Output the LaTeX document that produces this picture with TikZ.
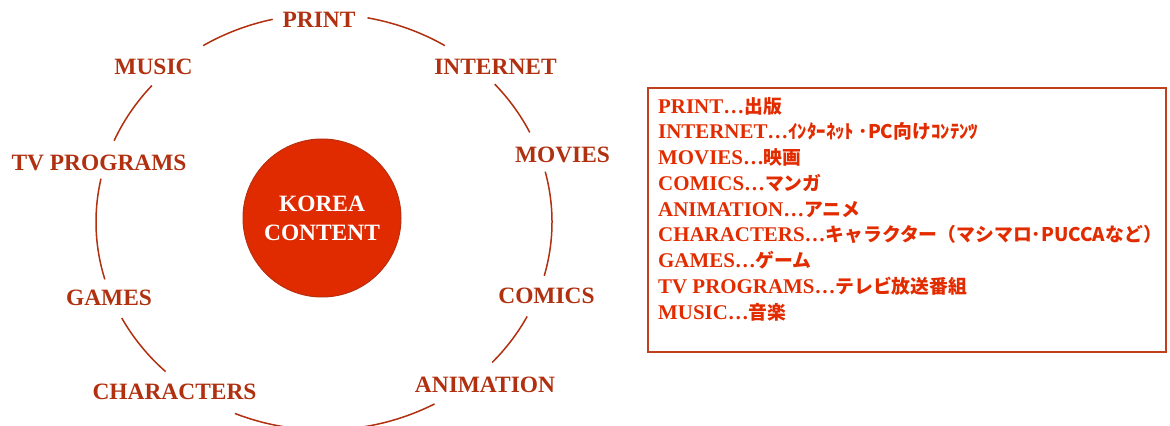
\documentclass[tikz,border=0pt]{standalone}
\usepackage{fontspec}
\setmainfont{Liberation Serif}
\newfontfamily\jp[Scale=0.9]{Noto Sans CJK JP}
\definecolor{ringc}{RGB}{176,48,16}
\definecolor{corefill}{RGB}{224,42,0}
\definecolor{coreedge}{RGB}{184,48,16}
\definecolor{boxtext}{RGB}{226,44,0}
\definecolor{boxedge}{RGB}{192,64,32}
\tikzset{
  lab/.style={font=\fontsize{23.5}{28}\selectfont\bfseries, text=ringc, anchor=base, inner sep=0pt},
  ringline/.style={draw=ringc, line width=1.5bp},
  core/.style={circle, fill=corefill, draw=coreedge, line width=1bp, minimum size=158bp, inner sep=0pt,
    text=white, align=center, font=\fontsize{23.5}{29.3}\selectfont\bfseries},
  legendbox/.style={draw=boxedge, line width=1.8bp, minimum width=518bp, minimum height=264bp, inner sep=0pt},
  item/.style={anchor=base west, inner sep=0pt, text=boxtext, font=\fontsize{21}{25}\selectfont\bfseries}
}
\begin{document}
\begin{tikzpicture}[x=1bp,y=1bp]
\useasboundingbox (0,0) rectangle (1170,425);
\coordinate (O) at (324,203);
% ring labels
\node[lab] (print) at (319,397) {PRINT};
\node[lab] (music) at (153.5,351) {MUSIC};
\node[lab] (internet) at (495.5,351) {INTERNET};
\node[lab] (tv) at (99,255) {TV PROGRAMS};
\node[lab] (movies) at (562.5,263) {MOVIES};
\node[lab] (games) at (109,120) {GAMES};
\node[lab] (comics) at (546.5,122) {COMICS};
\node[lab] (characters) at (174.5,26) {CHARACTERS};
\node[lab] (animation) at (485,33) {ANIMATION};
% ring arcs
\draw[ringline] (O) ++(58:228bp and 208bp) arc[start angle=58,end angle=79,x radius=228bp,y radius=208bp];
\draw[ringline] (O) ++(103:228bp and 208bp) arc[start angle=103,end angle=122,x radius=228bp,y radius=208bp];
\draw[ringline] (O) ++(139:228bp and 208bp) arc[start angle=139,end angle=157,x radius=228bp,y radius=208bp];
\draw[ringline] (O) ++(168:228bp and 208bp) arc[start angle=168,end angle=196,x radius=228bp,y radius=208bp];
\draw[ringline] (O) ++(207.5:228bp and 208bp) arc[start angle=207.5,end angle=226,x radius=228bp,y radius=208bp];
\draw[ringline] (O) ++(247:228bp and 208bp) arc[start angle=247,end angle=299,x radius=228bp,y radius=208bp];
\draw[ringline] (O) ++(-42.5:228bp and 208bp) arc[start angle=-42.5,end angle=-27,x radius=228bp,y radius=208bp];
\draw[ringline] (O) ++(-15:228bp and 208bp) arc[start angle=-15,end angle=14,x radius=228bp,y radius=208bp];
\draw[ringline] (O) ++(25.5:228bp and 208bp) arc[start angle=25.5,end angle=41.5,x radius=228bp,y radius=208bp];
% core
\node[core] (korea) at (322,207) {KOREA\\CONTENT};
% legend
\node[legendbox] (legend) at (907,205) {};
\node[item] (l1) at (658,312) {PRINT…{\jp 出版}};
\node[item] (l2) at (658,286.25) {INTERNET…{\jp ｲﾝﾀｰﾈｯﾄ ･PC向けｺﾝﾃﾝﾂ}};
\node[item] (l3) at (658,260.5) {MOVIES…{\jp 映画}};
\node[item] (l4) at (658,234.75) {COMICS…{\jp マンガ}};
\node[item] (l5) at (658,209) {ANIMATION…{\jp アニメ}};
\node[item] (l6) at (658,183.25) {CHARACTERS…{\jp キャラクター（マシマロ･PUCCAなど）}};
\node[item] (l7) at (658,157.5) {GAMES…{\jp ゲーム}};
\node[item] (l8) at (658,131.75) {TV PROGRAMS…{\jp テレビ放送番組}};
\node[item] (l9) at (658,106) {MUSIC…{\jp 音楽}};
\end{tikzpicture}
\end{document}
